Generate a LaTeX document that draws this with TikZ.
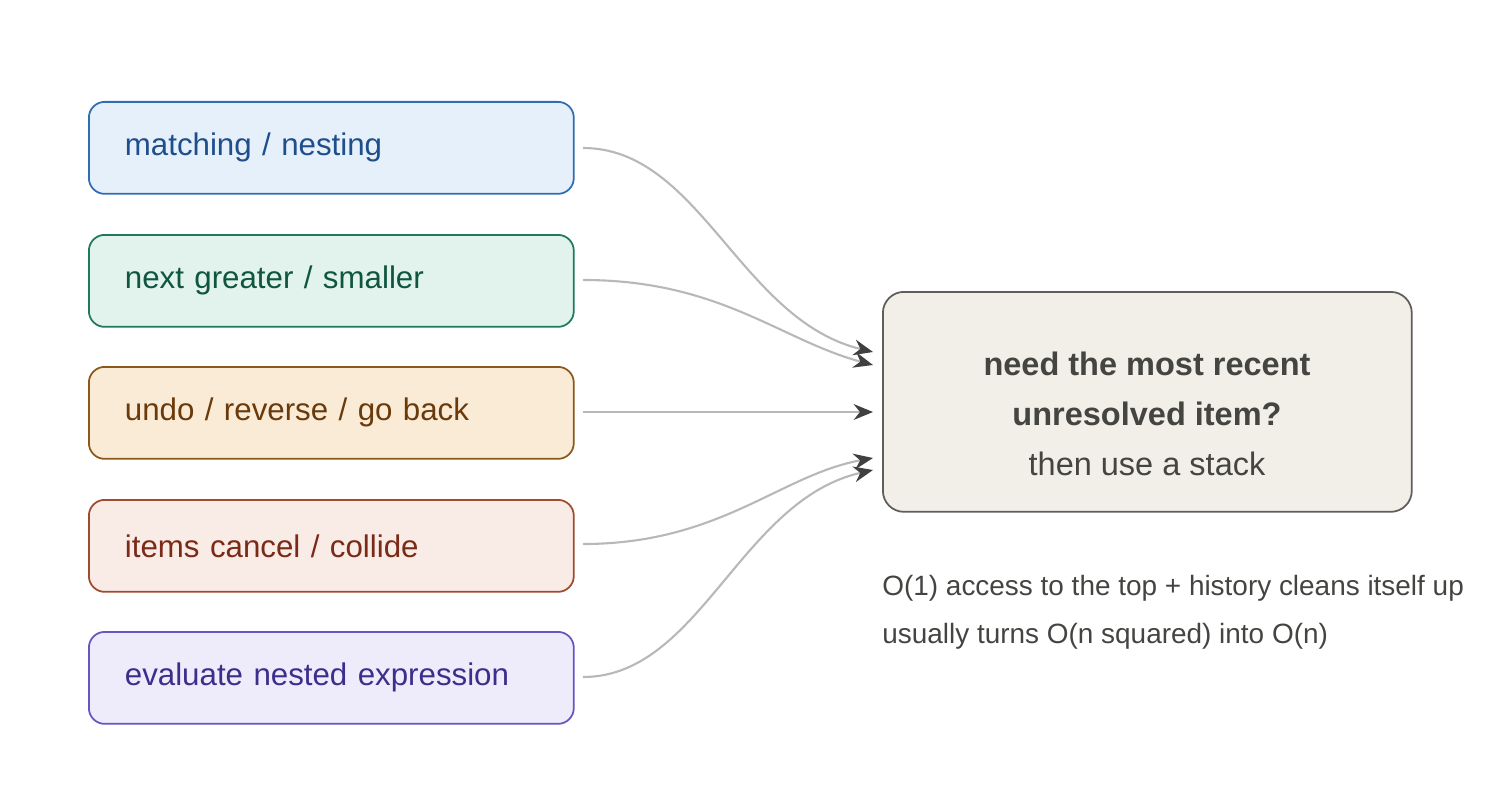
\documentclass[tikz,border=0pt]{standalone}
\usepackage{fontspec}
\setmainfont{Liberation Sans}
\usetikzlibrary{arrows.meta}
\definecolor{b1f}{HTML}{E6F0FA}\definecolor{b1d}{HTML}{2F6DB5}\definecolor{b1t}{HTML}{1F4E8C}
\definecolor{b2f}{HTML}{E1F3EC}\definecolor{b2d}{HTML}{1F7A5C}\definecolor{b2t}{HTML}{0F5540}
\definecolor{b3f}{HTML}{FAEBD7}\definecolor{b3d}{HTML}{8B5A1A}\definecolor{b3t}{HTML}{6B3A0A}
\definecolor{b4f}{HTML}{F9EBE6}\definecolor{b4d}{HTML}{A04A30}\definecolor{b4t}{HTML}{7A2A16}
\definecolor{b5f}{HTML}{EEEBFB}\definecolor{b5d}{HTML}{6A55C0}\definecolor{b5t}{HTML}{3D2E8C}
\definecolor{rf}{HTML}{F1EFE8}\definecolor{rd}{HTML}{5F5E5A}\definecolor{rt}{HTML}{444441}
\begin{document}
\begin{tikzpicture}[x=0.02cm,y=-0.02cm,
 src/.style={draw=#1d,fill=#1f,text=#1t,rounded corners=9pt,line width=1pt,minimum width=9.7cm,minimum height=1.84cm,text width=8.26cm,align=left,inner sep=0pt,font=\fontsize{17.8}{21}\selectfont,anchor=north west},
 conn/.style={draw=black!28,line width=1.2pt,-{Stealth[length=11pt,width=9pt,color=black!75]}}]
\useasboundingbox (0,0) rectangle (1500,794);
\node[src=b1] (a) at (88,101) {matching / nesting};
\node[src=b2] (b) at (88,234) {next greater / smaller};
\node[src=b3] (c) at (88,366) {undo / reverse / go back};
\node[src=b4] (d) at (88,499) {items cancel / collide};
\node[src=b5] (e) at (88,631) {evaluate nested expression};
\node[draw=rd,fill=rf,text=rt,rounded corners=12pt,line width=1pt,minimum width=10.58cm,minimum height=4.4cm,anchor=north west,inner sep=0pt] (r) at (882,291) {};
\node[text=rt,font=\fontsize{18.5}{28.5}\selectfont,align=center] (rt) at (1147,414) {\textbf{need the most recent}\\\textbf{unresolved item?}\\then use a stack};
\node[text=rt,font=\fontsize{15.9}{27.3}\selectfont,align=left,anchor=north west,inner sep=0pt] (n) at (882,575) {O(1) access to the top + history cleans itself up\\usually turns O(n squared) into O(n)};
\coordinate (t1) at (873,352);\coordinate (t2) at (873,365);\coordinate (t3) at (873,412);
\coordinate (t4) at (873,458);\coordinate (t5) at (873,470);
\coordinate (s1) at (583,148);\coordinate (s2) at (583,280);\coordinate (s3) at (583,412);
\coordinate (s4) at (583,544);\coordinate (s5) at (583,677);
\draw[conn] (s1) .. controls (700,148) and (740,320) .. (t1);
\draw[conn] (s2) .. controls (720,280) and (780,340) .. (t2);
\draw[conn] (s3) -- (t3);
\draw[conn] (s4) .. controls (720,544) and (780,475) .. (t4);
\draw[conn] (s5) .. controls (700,677) and (740,500) .. (t5);
\end{tikzpicture}
\end{document}
